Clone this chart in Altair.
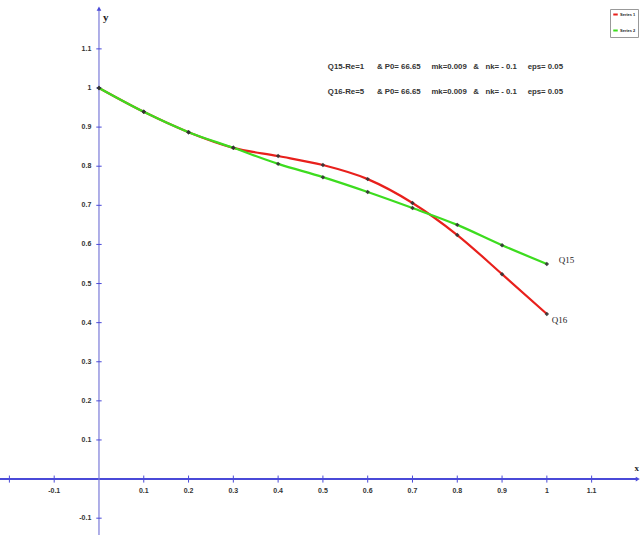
import altair as alt
import pandas as pd

# ---- data ----
x_vals = [0.0, 0.1, 0.2, 0.3, 0.4, 0.5, 0.6, 0.7, 0.8, 0.9, 1.0]
series1 = [1.0, 0.939, 0.887, 0.847, 0.826, 0.803, 0.767, 0.706, 0.624, 0.524, 0.422]  # red, Q16
series2 = [1.0, 0.939, 0.887, 0.847, 0.806, 0.772, 0.734, 0.693, 0.650, 0.598, 0.550]  # green, Q15
series_names = ["Series 1", "Series 2"]
end_labels = ["Q16", "Q15"]
x_ticks = [-0.2, -0.1, 0.1, 0.2, 0.3, 0.4, 0.5, 0.6, 0.7, 0.8, 0.9, 1.0, 1.1]
x_tick_labels = ["", "-0.1", "0.1", "0.2", "0.3", "0.4", "0.5", "0.6", "0.7", "0.8", "0.9", "1", "1.1"]
y_ticks = [1.1, 1.0, 0.9, 0.8, 0.7, 0.6, 0.5, 0.4, 0.3, 0.2, 0.1, -0.1]
y_tick_labels = ["1.1", "1", "0.9", "0.8", "0.7", "0.6", "0.5", "0.4", "0.3", "0.2", "0.1", "-0.1"]
S = "\u00a0"
notes = [
    "Q15-Re=1" + S * 6 + "& P0= 66.65" + S * 5 + "mk=0.009" + S * 3 + "&" + S * 3 + "nk= - 0.1" + S * 5 + "eps= 0.05",
    "Q16-Re=5" + S * 6 + "& P0= 66.65" + S * 5 + "mk=0.009" + S * 3 + "&" + S * 3 + "nk= - 0.1" + S * 5 + "eps= 0.05",
]

XMIN, XMAX = -0.221, 1.208
YMIN, YMAX = -0.143, 1.225
xs = alt.Scale(domain=[XMIN, XMAX], nice=False, zero=False)
ys = alt.Scale(domain=[YMIN, YMAX], nice=False, zero=False)
AXC = "#4a4ad8"

rows = []
for name, vals in zip(series_names, [series1, series2]):
    for xv, yv in zip(x_vals, vals):
        rows.append({"x": xv, "y": yv, "series": name})
df = pd.DataFrame(rows)

base_x = alt.X("x:Q", scale=xs, axis=None)
base_y = alt.Y("y:Q", scale=ys, axis=None)

# axes
xaxis = alt.Chart(pd.DataFrame({"x": [XMIN], "x2": [1.2], "y": [0.0]})).mark_rule(
    color=AXC, strokeWidth=2).encode(x=base_x, x2="x2:Q", y=base_y)
yaxis = alt.Chart(pd.DataFrame({"x": [0.0], "y": [YMIN], "y2": [1.2]})).mark_rule(
    color="#7a7ad8", strokeWidth=1.2).encode(x=base_x, y=base_y, y2="y2:Q")
arrows = alt.Chart(pd.DataFrame({"x": [1.203, 0.0], "y": [0.0, 1.203],
                                 "shape": ["triangle-right", "triangle-up"]})).mark_point(
    filled=True, color=AXC, size=22, opacity=1).encode(
    x=base_x, y=base_y, shape=alt.Shape("shape:N", scale=None, legend=None))

xt = pd.DataFrame({"x": x_ticks, "lab": x_tick_labels})
xt["y"] = -0.009
xt["y2"] = 0.009
xtick_marks = alt.Chart(xt).mark_rule(color=AXC, strokeWidth=1).encode(
    x=base_x, y=base_y, y2="y2:Q")
xtick_text = alt.Chart(xt).mark_text(fontSize=7, fontWeight="bold", color="#333",
                                     baseline="top", dy=11, font="Liberation Sans").encode(
    x=base_x, y=alt.Y("y2:Q", scale=ys, axis=None), text="lab:N")

yt = pd.DataFrame({"y": y_ticks, "lab": y_tick_labels})
yt["x"] = -0.006
yt["x2"] = 0.006
ytick_marks = alt.Chart(yt).mark_rule(color=AXC, strokeWidth=1).encode(
    x=base_x, x2="x2:Q", y=base_y)
ytick_text = alt.Chart(yt).mark_text(fontSize=7, fontWeight="bold", color="#333",
                                     align="right", dx=-5, font="Liberation Sans").encode(
    x=base_x, y=base_y, text="lab:N")

yname = alt.Chart(pd.DataFrame({"x": [0.0], "y": [1.18], "t": ["y"]})).mark_text(
    fontSize=11, font="Liberation Serif", color="#222", fontWeight="bold", align="left", dx=4).encode(
    x=base_x, y=base_y, text="t:N")
xname = alt.Chart(pd.DataFrame({"x": [1.208], "y": [0.028], "t": ["x"]})).mark_text(
    fontSize=9, font="Liberation Serif", color="#222", fontWeight="bold", align="right", dx=-1).encode(
    x=base_x, y=base_y, text="t:N")

# curves
lines = alt.Chart(df).mark_line(interpolate="monotone", strokeWidth=2.2).encode(
    x=base_x, y=base_y,
    color=alt.Color("series:N", scale=alt.Scale(domain=series_names, range=["#e8201c", "#3ddc1f"]),
                    legend=alt.Legend(title=None, orient="none", legendX=610, legendY=9,
                                      labelFontSize=4, labelFont="Liberation Sans",
                                      labelFontWeight="bold", labelColor="#222",
                                      symbolType="stroke", symbolSize=20, symbolStrokeWidth=2,
                                      padding=2, strokeColor="#999", rowPadding=7,
                                      labelOffset=1, fillColor="white")),
    order="x:Q")
points = alt.Chart(df).mark_point(filled=True, shape="diamond", size=20, color="#333333",
                                  opacity=0.9).encode(x=base_x, y=base_y)

ends = pd.DataFrame({"x": [x_vals[-1], x_vals[-1]], "y": [series1[-1], series2[-1]],
                     "t": end_labels})
end_q16 = alt.Chart(ends).transform_filter(alt.datum.t == end_labels[0]).mark_text(
    align="left", fontSize=9, font="Liberation Serif", color="#222", dx=5, dy=6).encode(
    x=base_x, y=base_y, text="t:N")
end_q15 = alt.Chart(ends).transform_filter(alt.datum.t == end_labels[1]).mark_text(
    align="left", fontSize=9, font="Liberation Serif", color="#222", dx=12, dy=-4).encode(
    x=base_x, y=base_y, text="t:N")

nd = pd.DataFrame({"x": [0.511, 0.511], "y": [1.054, 0.990], "t": notes})
note_text = alt.Chart(nd).mark_text(align="left", fontSize=7.8, fontWeight="bold",
                                    font="Liberation Sans", color="#333").encode(
    x=base_x, y=base_y, text="t:N")

chart = alt.layer(xaxis, yaxis, arrows, xtick_marks, ytick_marks, xtick_text, ytick_text,
                  yname, xname, lines, points, end_q16, end_q15, note_text).properties(
    width=640, height=535, padding=0, autosize=alt.AutoSizeParams(type="none"),
    background="white").configure_view(stroke=None)

chart.save("out.html", embed_options={"renderer": "svg", "actions": False})
